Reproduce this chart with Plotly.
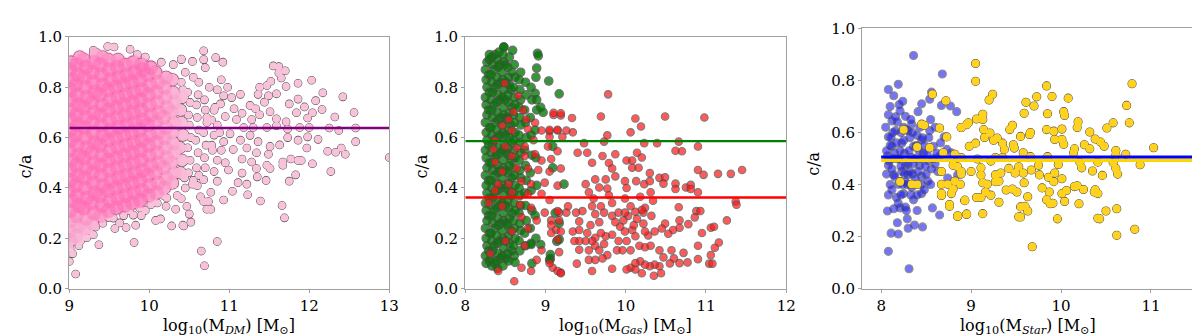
import plotly.graph_objects as go

# ---- values (x = log10 mass, y = c/a) ----

# panel 1: dark matter, dense cloud + scattered points
dm_cloud = [
    (9.01,.19),(9.00,.23),(9.02,.27),(9.01,.31),(9.03,.35),(9.00,.39),(9.02,.43),(9.01,.47),(9.03,.51),(9.00,.55),(9.02,.59),(9.01,.63),(9.03,.67),(9.00,.71),(9.02,.75),(9.01,.79),(9.03,.83),(9.01,.87),(9.02,.90),
    (9.08,.21),(9.11,.25),(9.09,.29),(9.12,.33),(9.10,.37),(9.08,.41),(9.11,.45),(9.09,.49),(9.12,.53),(9.10,.57),(9.08,.61),(9.11,.65),(9.09,.69),(9.12,.73),(9.10,.77),(9.08,.81),(9.11,.85),(9.09,.89),(9.13,.92),
    (9.19,.24),(9.21,.28),(9.18,.32),(9.22,.36),(9.20,.40),(9.19,.44),(9.21,.48),(9.18,.52),(9.22,.56),(9.20,.60),(9.19,.64),(9.21,.68),(9.18,.72),(9.22,.76),(9.20,.80),(9.19,.84),(9.21,.88),(9.18,.91),
    (9.29,.26),(9.31,.30),(9.28,.34),(9.32,.38),(9.30,.42),(9.29,.46),(9.31,.50),(9.28,.54),(9.32,.58),(9.30,.62),(9.29,.66),(9.31,.70),(9.28,.74),(9.32,.78),(9.30,.82),(9.29,.86),(9.31,.90),(9.33,.93),
    (9.39,.29),(9.41,.33),(9.38,.37),(9.42,.41),(9.40,.45),(9.39,.49),(9.41,.53),(9.38,.57),(9.42,.61),(9.40,.65),(9.39,.69),(9.41,.73),(9.38,.77),(9.42,.81),(9.40,.85),(9.39,.89),(9.42,.92),
    (9.49,.31),(9.51,.35),(9.48,.39),(9.52,.43),(9.50,.47),(9.49,.51),(9.51,.55),(9.48,.59),(9.52,.63),(9.50,.67),(9.49,.71),(9.51,.75),(9.48,.79),(9.52,.83),(9.50,.87),(9.49,.91),
    (9.59,.32),(9.61,.36),(9.58,.40),(9.62,.44),(9.60,.48),(9.59,.52),(9.61,.56),(9.58,.60),(9.62,.64),(9.60,.68),(9.59,.72),(9.61,.76),(9.58,.80),(9.62,.84),(9.60,.88),(9.61,.91),
    (9.69,.33),(9.71,.37),(9.68,.41),(9.72,.45),(9.70,.49),(9.69,.53),(9.71,.57),(9.68,.61),(9.72,.65),(9.70,.69),(9.69,.73),(9.71,.77),(9.68,.81),(9.72,.85),(9.70,.89),
    (9.79,.34),(9.81,.38),(9.78,.42),(9.82,.46),(9.80,.50),(9.79,.54),(9.81,.58),(9.78,.62),(9.82,.66),(9.80,.70),(9.79,.74),(9.81,.78),(9.78,.82),(9.82,.86),(9.80,.90),
    (9.89,.35),(9.91,.39),(9.88,.43),(9.92,.47),(9.90,.51),(9.89,.55),(9.91,.59),(9.88,.63),(9.92,.67),(9.90,.71),(9.89,.75),(9.91,.79),(9.88,.83),(9.92,.87),(9.90,.89),
    (9.99,.37),(10.01,.41),(9.98,.45),(10.02,.49),(10.00,.53),(9.99,.57),(10.01,.61),(9.98,.65),(10.02,.69),(10.00,.73),(9.99,.77),(10.01,.81),(9.98,.85),(10.02,.88),
    (10.09,.38),(10.11,.42),(10.08,.46),(10.12,.50),(10.10,.54),(10.09,.58),(10.11,.62),(10.08,.66),(10.12,.70),(10.10,.74),(10.09,.78),(10.11,.82),(10.08,.86),
    (10.19,.40),(10.21,.44),(10.18,.48),(10.22,.52),(10.20,.56),(10.19,.60),(10.21,.64),(10.18,.68),(10.22,.72),(10.20,.76),(10.19,.80),(10.21,.84),
    (10.29,.42),(10.31,.46),(10.28,.50),(10.32,.54),(10.30,.58),(10.29,.62),(10.31,.66),(10.28,.70),(10.32,.74),(10.30,.78),(10.29,.83),
    (10.39,.46),(10.41,.51),(10.38,.56),(10.42,.61),(10.40,.66),(10.39,.71),(10.41,.76),
]
dm_outer = [
    (10.44,.44),(10.42,.79),(10.40,.82),
    (10.49,.46),(10.51,.51),(10.48,.56),(10.52,.60),(10.50,.65),(10.49,.69),(10.51,.74),(10.48,.78),
    (10.59,.48),(10.61,.54),(10.58,.59),(10.62,.63),(10.60,.68),(10.59,.73),(10.61,.77),
    (10.69,.52),(10.71,.57),(10.68,.62),(10.72,.66),(10.70,.71),(10.69,.75),
    (10.79,.55),(10.81,.61),(10.78,.67),(10.82,.72),
    (10.68,.945),(10.40,.912),(10.54,.903),(10.68,.91),(10.83,.918),(10.92,.90),(10.70,.878),(11.55,.885),(11.62,.882),(11.70,.866),
    (11.62,.857),(11.65,.837),(11.52,.824),(11.47,.807),(11.38,.80),(11.71,.803),(11.86,.816),(12.03,.828),(12.17,.778),(12.42,.762),
    (12.56,.70),(12.32,.682),(12.16,.712),(12.04,.699),(12.08,.747),(11.86,.753),(11.75,.734),(11.94,.722),(11.98,.678),(11.84,.699),
    (11.71,.663),(11.59,.675),(11.51,.703),(11.44,.741),(11.59,.774),(11.49,.766),(11.36,.772),(11.14,.772),(11.03,.759),(10.93,.766),
    (11.26,.728),(11.33,.715),(11.38,.691),(11.28,.672),(11.16,.697),(11.06,.715),(10.89,.734),(10.81,.709),(10.95,.684),(11.09,.672),
    (11.18,.64),(11.30,.64),(11.47,.64),(11.59,.647),(11.73,.634),(11.88,.64),(12.0,.64),(12.25,.638),(12.37,.628),(12.58,.638),
    (12.58,.584),(12.40,.559),(12.45,.534),(12.33,.542),(12.23,.546),(12.11,.593),(11.98,.603),(11.97,.559),(12.04,.496),(11.86,.59),
    (11.73,.60),(11.63,.571),(11.51,.565),(11.36,.584),(11.26,.609),(11.14,.59),(11.01,.615),(10.93,.584),(11.05,.553),(11.22,.559),
    (11.34,.54),(11.49,.534),(11.67,.503),(11.77,.515),(11.90,.509),(13.0,.521),(11.16,.515),(11.28,.503),(11.47,.49),
    (12.27,.465),(11.83,.452),(11.75,.427),(11.46,.43),(11.35,.444),(11.23,.373),(11.39,.348),(11.66,.33),(11.69,.281),(11.04,.387),
    (10.93,.352),(10.85,.187),(10.65,.149),(10.69,.091),(11.22,.415),(11.11,.421),(10.77,.315),(10.72,.315),(10.74,.346),(10.68,.346),
    (10.52,.264),(10.50,.296),(10.47,.327),(10.43,.249),(10.28,.249),(10.33,.315),(10.40,.358),(10.64,.365),(10.60,.409),(10.77,.383),
    (10.54,.415),(10.68,.433),(10.85,.427),(10.81,.465),(10.99,.471),(11.16,.459),(11.34,.477),(11.51,.477),(11.67,.49),(11.86,.509),
    (9.08,.058),(9.0,.108),(9.04,.139),(9.14,.189),(9.37,.174),(9.81,.183),(9.30,.214),(9.22,.202),(9.57,.239),(9.71,.243),
    (9.63,.261),(9.83,.252),(10.08,.271),(10.14,.277),(10.42,.252),(9.02,.252),(9.49,.283),(9.80,.292),(10.02,.333),(10.21,.327),
    (9.48,.962),(9.56,.96),(9.76,.951),(9.30,.947),(10.40,.91),
    (10.45,.86),(10.55,.84),(10.62,.82),(10.75,.80),(10.85,.79),(10.90,.83),(10.98,.80),(10.30,.89),(10.15,.90),(9.95,.92),
    (9.85,.93),(10.72,.68),(10.85,.65),(10.88,.62),(10.78,.57),(10.90,.55),(10.85,.51),(10.95,.50),(10.70,.48),(10.62,.45),
    (10.55,.43),(10.45,.40),(10.35,.37),(10.22,.36),(10.10,.34),(9.95,.31),(9.90,.29),
    (9.01,.16),(9.05,.19),(9.12,.17),(9.09,.22),(9.16,.21),(9.25,.23),(9.33,.245),(9.42,.26),(9.55,.28),(9.68,.29),
    (9.75,.31),(9.88,.32),(10.05,.35),(10.18,.37),
]
dm_mean = 0.638

# panel 2: gas, two populations
gas_green = [
    (8.26,.10),(8.25,.13),(8.27,.17),(8.26,.20),(8.25,.24),(8.27,.27),(8.26,.31),(8.25,.34),(8.27,.38),(8.26,.41),(8.25,.45),(8.27,.48),(8.26,.52),(8.25,.55),(8.27,.59),(8.26,.62),(8.25,.66),(8.27,.69),(8.26,.73),(8.25,.76),(8.27,.80),(8.26,.83),(8.25,.87),(8.27,.90),
    (8.30,.11),(8.29,.15),(8.30,.22),(8.29,.29),(8.30,.36),(8.29,.43),(8.30,.50),(8.29,.57),(8.30,.64),(8.29,.71),(8.30,.78),(8.29,.85),(8.30,.91),
    (8.33,.09),(8.32,.12),(8.34,.15),(8.33,.19),(8.32,.22),(8.34,.26),(8.33,.29),(8.32,.33),(8.34,.36),(8.33,.40),(8.32,.43),(8.34,.47),(8.33,.50),(8.32,.54),(8.34,.57),(8.33,.61),(8.32,.64),(8.34,.68),(8.33,.71),(8.32,.75),(8.34,.78),(8.33,.82),(8.32,.85),(8.34,.89),(8.33,.92),
    (8.37,.10),(8.36,.17),(8.37,.24),(8.36,.31),(8.37,.38),(8.36,.45),(8.37,.52),(8.36,.59),(8.37,.66),(8.36,.73),(8.37,.80),(8.36,.87),(8.37,.93),
    (8.40,.08),(8.39,.11),(8.41,.14),(8.40,.18),(8.39,.21),(8.41,.25),(8.40,.28),(8.39,.32),(8.41,.35),(8.40,.39),(8.39,.42),(8.41,.46),(8.40,.49),(8.39,.53),(8.41,.56),(8.40,.60),(8.39,.63),(8.41,.67),(8.40,.70),(8.39,.74),(8.41,.77),(8.40,.81),(8.39,.84),(8.41,.88),(8.40,.91),(8.42,.94),
    (8.44,.12),(8.43,.19),(8.44,.26),(8.43,.33),(8.44,.40),(8.43,.47),(8.44,.54),(8.43,.61),(8.44,.68),(8.43,.75),(8.44,.82),(8.43,.89),
    (8.47,.09),(8.46,.13),(8.48,.16),(8.47,.20),(8.46,.23),(8.48,.27),(8.47,.30),(8.46,.34),(8.48,.37),(8.47,.41),(8.46,.44),(8.48,.48),(8.47,.51),(8.46,.55),(8.48,.58),(8.47,.62),(8.46,.65),(8.48,.69),(8.47,.72),(8.46,.76),(8.48,.79),(8.47,.83),(8.46,.86),(8.48,.90),(8.47,.93),(8.48,.96),
    (8.51,.12),(8.50,.19),(8.51,.26),(8.50,.33),(8.51,.40),(8.50,.47),(8.51,.54),(8.50,.61),(8.51,.68),(8.50,.75),(8.51,.82),(8.50,.89),
    (8.54,.11),(8.53,.14),(8.55,.18),(8.54,.21),(8.53,.25),(8.55,.28),(8.54,.32),(8.53,.35),(8.55,.39),(8.54,.42),(8.53,.46),(8.55,.49),(8.54,.53),(8.53,.56),(8.55,.60),(8.54,.63),(8.53,.67),(8.55,.70),(8.54,.74),(8.53,.77),(8.55,.81),(8.54,.84),(8.53,.88),(8.55,.92),
    (8.58,.15),(8.57,.23),(8.58,.30),(8.57,.37),(8.58,.44),(8.57,.51),(8.58,.58),(8.57,.65),(8.58,.72),(8.57,.79),(8.58,.86),
    (8.61,.13),(8.60,.17),(8.62,.20),(8.61,.24),(8.60,.27),(8.62,.31),(8.61,.34),(8.60,.38),(8.62,.41),(8.61,.45),(8.60,.48),(8.62,.52),(8.61,.55),(8.60,.59),(8.62,.62),(8.61,.66),(8.60,.69),(8.62,.73),(8.61,.76),(8.60,.80),(8.62,.84),(8.61,.89),
    (8.68,.15),(8.67,.19),(8.69,.23),(8.68,.26),(8.67,.30),(8.69,.33),(8.68,.37),(8.67,.40),(8.69,.44),(8.68,.47),(8.67,.51),(8.69,.54),(8.68,.58),(8.67,.61),(8.69,.65),(8.68,.68),(8.67,.72),(8.69,.75),(8.68,.79),(8.67,.83),(8.69,.86),
    (8.75,.17),(8.74,.22),(8.76,.27),(8.75,.33),(8.74,.38),(8.76,.43),(8.75,.49),(8.74,.55),(8.76,.60),(8.75,.66),(8.74,.71),(8.76,.77),(8.75,.82),
    (8.82,.18),(8.81,.24),(8.83,.31),(8.82,.39),(8.81,.46),(8.83,.53),(8.82,.61),(8.81,.68),(8.83,.75),(8.82,.80),
    (8.88,.20),(8.87,.29),(8.89,.41),(8.88,.52),(8.87,.63),(8.89,.71),(8.88,.84),
    (8.48,.96),(8.59,.947),(8.90,.935),(8.91,.925),(8.89,.876),(9.04,.825),(9.17,.774),(8.87,.776),(8.89,.75),(8.62,.104),
    (8.83,.10),(9.06,.119),(9.06,.135),(8.94,.175),(8.82,.175),(9.14,.188),(8.30,.93),(9.09,.565),(9.09,.48),(9.05,.114),
    (9.17,.195),(9.23,.415),(9.12,.30),(9.17,.26),(8.94,.72),(8.97,.70),
]
gas_red = [
    (9.10,.69),(9.19,.688),(9.33,.678),(9.69,.684),(10.12,.676),(10.49,.684),(10.98,.680),(10.19,.644),(10.06,.621),(9.77,.609),
    (9.26,.628),(9.34,.621),(9.15,.628),(9.21,.603),(9.05,.625),(9.05,.603),(9.48,.578),(9.73,.584),(10.23,.578),(10.39,.578),
    (10.66,.584),(10.90,.565),(10.62,.548),(10.70,.546),(10.14,.54),(10.20,.521),(10.01,.509),(10.08,.509),(9.87,.534),(9.71,.527),
    (9.58,.50),(9.79,.499),(9.83,.477),(9.52,.54),(9.40,.54),(10.08,.48),(10.16,.48),(10.90,.471),(10.97,.452),(11.15,.456),
    (11.31,.456),(11.45,.471),(10.30,.459),(10.42,.44),(10.49,.442),(10.47,.417),(10.62,.417),(10.62,.396),(10.75,.402),(10.81,.412),
    (10.81,.396),(10.90,.383),(10.31,.383),(10.13,.427),(10.23,.415),(10.30,.427),(9.99,.427),(10.01,.40),(9.75,.434),(9.87,.446),
    (9.62,.434),(9.50,.415),(9.67,.402),(9.77,.398),(9.54,.383),(10.18,.365),(10.34,.349),(9.99,.358),(9.79,.371),(9.60,.358),
    (11.37,.346),(11.38,.333),(10.66,.323),(10.88,.308),(10.86,.283),(10.93,.308),(11.26,.271),(11.06,.242),(11.10,.246),(10.95,.221),
    (11.16,.183),(11.11,.162),(11.06,.133),(10.90,.117),(11.04,.099),(11.08,.099),(10.67,.271),(10.78,.256),(10.67,.242),(10.59,.233),
    (10.53,.218),(10.49,.258),(10.45,.239),(10.36,.227),(10.28,.211),(10.24,.227),(10.22,.258),(10.32,.289),(10.22,.302),(10.24,.321),
    (10.20,.312),(10.12,.305),(10.03,.289),(9.97,.271),(9.93,.246),(9.99,.227),(10.08,.233),(10.12,.208),(10.17,.17),(10.24,.164),
    (10.31,.17),(10.42,.152),(10.47,.124),(10.57,.152),(10.60,.12),(10.55,.10),(10.42,.089),(10.36,.095),(10.30,.089),(10.24,.095),
    (10.18,.108),(10.12,.101),(10.06,.083),(10.01,.076),(10.12,.076),(10.20,.061),(10.35,.051),(10.44,.061),(10.77,.104),(10.72,.142),
    (10.67,.101),(10.90,.17),(9.83,.079),(9.58,.07),(9.54,.114),(9.39,.099),(9.42,.154),(9.54,.152),(9.62,.17),(9.67,.152),
    (9.73,.177),(9.77,.133),(9.89,.152),(9.91,.189),(9.83,.214),(9.75,.208),(9.69,.221),(9.62,.202),(9.58,.189),(9.50,.189),
    (9.42,.189),(9.36,.189),(9.34,.227),(9.42,.233),(9.52,.221),(9.56,.252),(9.67,.264),(9.62,.296),(9.73,.302),(9.69,.327),
    (9.58,.327),(9.46,.308),(9.38,.302),(9.26,.302),(9.28,.327),(9.17,.302),(9.17,.271),(9.07,.271),(9.13,.233),(9.15,.195),
    (9.07,.221),(9.17,.145),(9.09,.083),(9.19,.064),(9.83,.289),(9.87,.264),(9.91,.302),(9.99,.302),(10.06,.327),(10.14,.277),
    (10.10,.252),(10.01,.189),(9.96,.152),(10.06,.152),(9.62,.114),(9.71,.12),(9.42,.267),(9.83,.34),(9.78,.772),
    (8.49,.816),(8.66,.766),(8.60,.703),(8.72,.709),(8.54,.672),(8.76,.672),(8.87,.659),(9.10,.699),(9.19,.697),(8.46,.647),
    (8.58,.628),(8.78,.634),(8.95,.628),(9.05,.631),(9.15,.631),(8.37,.59),(8.50,.565),(8.64,.559),(8.74,.565),(8.85,.59),
    (9.03,.565),(9.15,.546),(8.58,.527),(8.74,.527),(8.87,.534),(8.95,.509),(9.07,.515),(8.37,.503),(8.46,.465),(8.64,.477),
    (8.78,.477),(8.91,.471),(9.05,.465),(9.19,.477),(8.41,.415),(8.54,.415),(8.70,.427),(8.82,.415),(8.99,.421),(9.15,.409),
    (8.37,.39),(8.58,.383),(8.78,.377),(8.95,.377),(9.05,.352),(8.29,.34),(8.46,.327),(8.68,.333),(8.82,.321),(8.99,.302),
    (9.15,.308),(8.70,.283),(8.89,.271),(9.07,.252),(9.19,.227),(8.58,.227),(8.78,.239),(8.50,.189),(8.74,.17),(8.95,.152),
    (8.31,.139),(8.41,.07),(9.05,.101),(9.15,.07),(9.19,.061),(8.82,.07),(8.70,.083),(8.61,.029),(8.89,.114),(8.35,.553),
]
gas_green_mean = 0.586
gas_red_mean = 0.362

# panel 3: stars, two populations
star_blue = [
    (8.36,.896),(8.68,.825),(8.08,.765),(8.19,.785),(8.14,.741),(8.56,.755),(8.54,.728),(8.45,.71),(8.20,.707),(8.21,.683),
    (8.41,.68),(8.67,.704),(8.77,.702),(8.84,.68),(8.08,.668),(8.12,.644),(8.27,.662),(8.34,.632),(8.16,.607),(8.08,.583),
    (8.30,.607),(8.40,.589),(8.54,.607),(8.70,.583),(8.23,.559),(8.12,.547),(8.36,.547),(8.45,.571),(8.58,.547),(8.73,.535),
    (8.07,.51),(8.19,.498),(8.34,.504),(8.52,.492),(8.65,.51),(8.78,.522),(8.08,.474),(8.27,.474),(8.43,.474),(8.60,.48),
    (8.14,.437),(8.30,.437),(8.45,.432),(8.74,.425),(8.85,.437),(8.19,.401),(8.34,.389),(8.52,.413),(8.25,.365),(8.36,.341),
    (8.45,.365),(8.19,.328),(8.07,.298),(8.14,.307),(8.21,.31),(8.27,.313),(8.57,.31),(8.65,.283),(8.18,.253),(8.29,.268),
    (8.30,.232),(8.37,.244),(8.46,.237),(8.11,.213),(8.19,.21),(8.08,.143),(8.31,.076),
    (8.10,.55),(8.15,.52),(8.22,.60),(8.26,.52),(8.32,.58),(8.38,.50),(8.42,.53),(8.48,.55),(8.50,.44),(8.56,.46),
    (8.62,.52),(8.10,.40),(8.17,.35),(8.23,.45),(8.29,.40),(8.38,.42),(8.45,.40),(8.33,.65),(8.25,.62),(8.18,.64),
    (8.12,.46),(8.06,.44),(8.05,.62),(8.28,.30),(8.40,.30),(8.47,.52),(8.30,.48),(8.20,.50),(8.08,.36),(8.13,.60),
    (8.06,.53),(8.09,.49),(8.11,.58),(8.14,.50),(8.16,.66),(8.17,.56),(8.21,.53),(8.22,.47),(8.24,.40),(8.25,.57),
    (8.26,.44),(8.28,.61),(8.31,.53),(8.32,.45),(8.33,.36),(8.35,.60),(8.36,.48),(8.39,.55),(8.41,.45),(8.43,.62),
    (8.44,.50),(8.46,.58),(8.49,.47),(8.51,.52),(8.53,.58),(8.55,.65),(8.58,.50),(8.60,.62),(8.63,.45),(8.66,.56),
    (8.12,.38),(8.15,.43),(8.22,.36),(8.27,.41),(8.35,.44),(8.40,.36),(8.48,.38),(8.55,.40),(8.10,.70),(8.24,.72),
]
star_yellow = [
    (9.05,.865),(9.05,.797),(9.24,.747),(9.20,.725),(9.84,.779),(9.90,.738),(10.08,.732),(9.73,.737),(9.70,.702),(9.61,.716),
    (9.59,.674),(9.85,.672),(10.03,.68),(10.04,.665),(10.19,.641),(10.18,.619),(10.58,.637),(10.76,.637),(10.73,.704),(10.79,.787),
    (11.03,.541),(10.51,.617),(10.32,.602),(10.38,.575),(10.44,.563),(10.48,.547),(10.61,.531),(10.72,.516),(10.61,.513),(10.88,.476),
    (10.26,.553),(10.32,.537),(10.15,.537),(10.01,.573),(9.93,.573),(10.03,.555),(9.84,.611),(9.92,.605),(10.01,.613),(9.65,.592),
    (9.66,.60),(9.55,.585),(9.46,.628),(9.43,.611),(9.47,.553),(9.48,.54),(9.35,.559),(9.29,.579),(9.21,.598),(9.14,.611),
    (9.15,.581),(9.13,.67),(9.13,.65),(9.06,.652),(8.97,.637),(8.89,.619),(9.58,.522),(9.66,.507),(9.85,.507),(10.14,.522),
    (10.21,.486),(10.23,.464),(10.41,.486),(10.58,.484),(10.61,.462),(10.63,.44),(10.35,.452),(10.46,.435),(9.97,.477),(9.75,.474),
    (9.76,.437),(9.67,.456),(9.58,.444),(9.49,.444),(9.42,.462),(9.35,.504),(9.27,.504),(9.22,.49),(9.33,.444),(9.27,.437),
    (9.27,.411),(9.31,.413),(9.18,.401),(9.13,.407),(9.11,.437),(9.11,.464),(9.07,.498),(9.00,.45),(8.89,.45),(8.85,.468),
    (8.88,.401),(8.82,.413),(8.80,.383),(8.67,.365),(8.67,.358),(8.76,.316),(8.93,.338),(8.95,.286),(8.85,.277),(9.13,.288),
    (9.06,.35),(9.11,.35),(9.16,.371),(9.22,.359),(9.31,.332),(9.39,.379),(9.46,.383),(9.51,.371),(9.59,.407),(9.63,.353),
    (9.60,.316),(9.55,.314),(9.63,.298),(9.53,.276),(9.55,.275),(9.68,.161),(9.79,.387),(9.87,.371),(9.84,.341),(9.88,.326),
    (9.91,.328),(9.86,.428),(9.92,.411),(9.93,.444),(10.01,.422),(10.01,.365),(10.06,.377),(10.04,.335),(10.15,.392),(10.18,.395),
    (10.25,.381),(10.20,.326),(10.37,.371),(10.38,.38),(10.41,.365),(9.96,.268),(10.50,.298),(10.41,.27),(10.43,.268),(10.62,.307),
    (10.62,.205),(10.82,.228),(9.53,.468),(9.37,.535),(9.25,.57),(9.05,.559),(8.98,.547),
    (8.57,.747),(8.72,.722),(8.45,.632),(8.48,.628),(8.25,.61),(8.65,.617),(8.73,.583),(8.89,.619),(8.95,.63),(8.40,.544),
    (8.54,.541),(8.69,.522),(8.82,.516),(8.89,.504),(8.67,.45),(8.80,.474),(8.89,.44),(8.67,.401),(8.74,.401),(8.21,.411),
    (8.34,.401),(8.40,.40),(8.78,.365),(8.67,.365),(8.93,.34),(8.76,.323),(8.85,.28),(8.95,.286),
]
star_blue_mean = 0.506
star_yellow_mean = 0.493

# axis ranges and tick values
dm_xrange = [9, 13]
gas_xrange = [8, 12]
star_xrange = [7.79, 11.48]
star_line_x = [8, 11.48]
dm_ticks = [9, 10, 11, 12, 13]
gas_ticks = [8, 9, 10, 11, 12]
star_ticks = [8, 9, 10, 11]
ca_ticks = [0.0, 0.2, 0.4, 0.6, 0.8, 1.0]

SERIF = "DejaVu Serif"
EDGE = "#4a4a4a"

fig = go.Figure()


def xs(pts):
    return [p[0] for p in pts]


def ys(pts):
    return [p[1] for p in pts]


def dots(pts, ax, color, size=7.5, opacity=1.0, edge=True):
    fig.add_trace(go.Scatter(
        x=xs(pts), y=ys(pts), mode="markers", xaxis=ax[0], yaxis=ax[1],
        marker=dict(size=size, color=color, opacity=opacity,
                    line=dict(color=EDGE, width=1.1 if edge else 0)),
        hoverinfo="skip", showlegend=False))


def hline(xr, yv, ax, color, width):
    fig.add_trace(go.Scatter(
        x=xr, y=[yv, yv], mode="lines", xaxis=ax[0], yaxis=ax[1],
        line=dict(color=color, width=width), hoverinfo="skip", showlegend=False))


# panel 1: outlined pass, then fill pass (merged blobs), then density tint on the core
p1 = ("x", "y")
PINK = "#f9c2db"
dots(dm_cloud, p1, PINK, size=12)
dots(dm_outer, p1, PINK)
dots(dm_cloud, p1, PINK, size=12, edge=False)
dots(dm_outer, p1, PINK, edge=False)

# tint strength fades toward the rim of the cloud (styling only)
tint = []
for x, y in dm_cloud:
    fx = min(1.0, max(0.1, (10.45 - x) / 0.55))
    fy = min(1.0, max(0.25, (0.36 - abs(y - 0.6)) / 0.08))
    tint.append(0.55 * fx * fy)
fig.add_trace(go.Scatter(
    x=xs(dm_cloud), y=ys(dm_cloud), mode="markers", xaxis="x", yaxis="y",
    marker=dict(size=15, color="#ff69b4", opacity=tint, line=dict(width=0)),
    hoverinfo="skip", showlegend=False))
hline(dm_xrange, dm_mean, p1, "#800080", 2.5)

# panel 2
p2 = ("x2", "y2")
dots(gas_green, p2, "#007a00", size=8.5, opacity=0.78)
dots(gas_red, p2, "#ff1a1a", opacity=0.72)
hline(gas_xrange, gas_green_mean, p2, "#008000", 2.2)
hline(gas_xrange, gas_red_mean, p2, "#ff0000", 2.5)

# panel 3
p3 = ("x3", "y3")
dots(star_blue, p3, "#2020f0", size=8, opacity=0.62)
dots(star_yellow, p3, "#ffd21f", size=8)
dots(star_yellow, p3, "#ffd21f", size=8, edge=False)
hline(star_line_x, star_yellow_mean, p3, "#ffd700", 3.5)
hline(star_line_x, star_blue_mean, p3, "#0000ff", 3)

tickfont = dict(family=SERIF, size=15, color="black")
frame = dict(showline=True, mirror=True, linecolor="#a0a0a0", linewidth=1.3,
             ticks="outside", ticklen=3, tickcolor="#a0a0a0", tickwidth=1.2,
             showgrid=False, zeroline=False, tickfont=tickfont)

fig.update_layout(
    width=1200, height=335,
    margin=dict(l=0, r=0, t=0, b=0),
    plot_bgcolor="white", paper_bgcolor="white",
    font=dict(family=SERIF),
    xaxis=dict(domain=[0.0475, 0.3175], range=dm_xrange, tickvals=dm_ticks, anchor="y", **frame),
    yaxis=dict(domain=[0.1433, 0.937], range=[0, 1], tickvals=ca_ticks, tickformat=".1f", anchor="x", **frame),
    xaxis2=dict(domain=[0.3817, 0.6525], range=gas_xrange, tickvals=gas_ticks, anchor="y2", **frame),
    yaxis2=dict(domain=[0.1433, 0.937], range=[0, 1], tickvals=ca_ticks, tickformat=".1f", anchor="x2", **frame),
    xaxis3=dict(domain=[0.7167, 0.9967], range=star_xrange, tickvals=star_ticks, anchor="y3", **frame),
    yaxis3=dict(domain=[0.1433, 0.964], range=[0, 1], tickvals=ca_ticks, tickformat=".1f", anchor="x3", **frame),
)

title_font = dict(family=SERIF, size=16, color="black")
xtitles = [
    ("x domain", "log<sub>10</sub>(M<sub><i>DM</i></sub>) [M<sub>⊙</sub>]"),
    ("x2 domain", "log<sub>10</sub>(M<sub><i>Gas</i></sub>) [M<sub>⊙</sub>]"),
    ("x3 domain", "log<sub>10</sub>(M<sub><i>Star</i></sub>) [M<sub>⊙</sub>]"),
]
for xref, text in xtitles:
    fig.add_annotation(xref=xref, yref="paper", x=0.5, y=-0.012, text=text,
                       showarrow=False, font=title_font, xanchor="center", yanchor="bottom",
                       borderpad=0)

for xpos, ypos in [(0.0108, 0.528), (0.345, 0.528), (0.676, 0.537)]:
    fig.add_annotation(xref="paper", yref="paper", x=xpos, y=ypos, text="c/a",
                       textangle=-90, showarrow=False, font=title_font,
                       xanchor="center", yanchor="middle")

fig.write_html("out.html")
